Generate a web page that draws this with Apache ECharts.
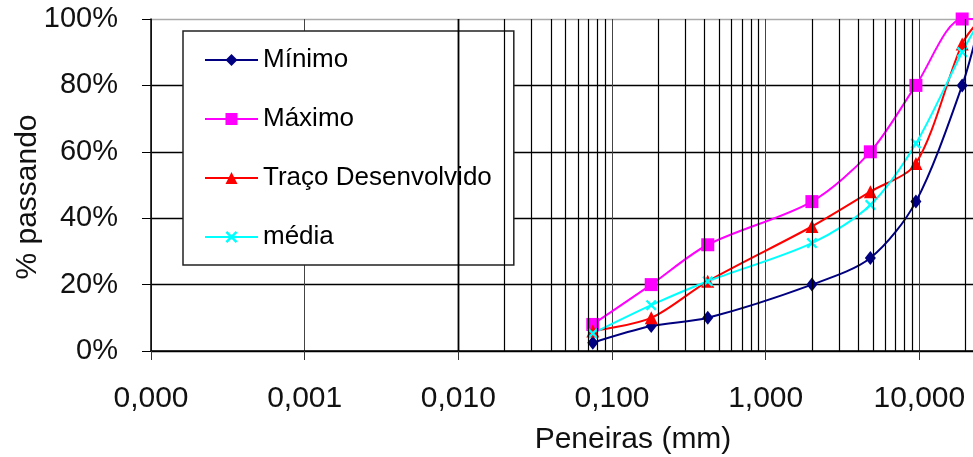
<!DOCTYPE html>
<html>
<head>
    <meta charset="utf-8">
    <script src="https://cdn.jsdelivr.net/npm/echarts@6/dist/echarts.min.js"></script>
</head>
<body style="margin:0;background:#fff;overflow:hidden">
    <!-- o grafico original esta cortado a direita: o div passa da janela -->
    <div id="main" style="width:1073px;height:457px;"></div>
    <script type="text/javascript">

        // peneiras (mm) e % passando de cada curva
        var peneiras = [0.075, 0.18, 0.42, 2.0, 4.8, 9.5, 19, 25];
        var minimo = [2.5, 7.5, 10, 20, 28, 45, 80, 100];
        var maximo = [8, 20, 32, 45, 60, 80, 100, 100];
        var traco = [6, 10, 21, 37.5, 48, 56.5, 92.5, 100];
        var media = [5.3, 13.8, 21, 32.5, 44, 62.5, 90, 100];
        var nomes = ['Mínimo', 'Máximo', 'Traço Desenvolvido', 'média'];

        function pares(vals) {
            return peneiras.map(function (p, i) { return [p, vals[i]]; });
        }

        // linhas de grade secundarias (2..9 em cada decada)
        var grade = [];
        for (var d = -4; d <= 1; d++) {
            for (var k = 2; k <= 9; k++) {
                grade.push({ xAxis: k * Math.pow(10, d) });
            }
        }

        var fonte = "'Liberation Sans', Arial, sans-serif";
        var cruz = 'path://M0,1.5L1.5,0L5,3.5L8.5,0L10,1.5L6.5,5L10,8.5L8.5,10L5,6.5L1.5,10L0,8.5L3.5,5Z';

        function curva(nome, vals, cor, simbolo, tam) {
            return {
                name: nome,
                type: 'line',
                data: pares(vals),
                smooth: 0.3,
                symbol: simbolo,
                symbolSize: tam,
                showSymbol: true,
                z: 3,
                lineStyle: { color: cor, width: 2 },
                itemStyle: { color: cor },
                emphasis: { disabled: true }
            };
        }

        var myChart = echarts.init(document.getElementById('main'));
        var option = {
            animation: false,
            textStyle: { fontFamily: fonte },
            grid: { left: 151, top: 19, bottom: 106, right: 0, outerBoundsMode: 'none', containLabel: false },
            legend: {
                data: nomes,
                orient: 'vertical',
                left: 183,
                top: 31,
                padding: [14, 22, 13, 21],
                itemWidth: 53,
                itemHeight: 15,
                itemGap: 29,
                backgroundColor: '#fff',
                borderColor: '#222',
                borderWidth: 1.5,
                borderRadius: 0,
                textStyle: { fontSize: 26, color: '#000', lineHeight: 30, fontFamily: fonte },
                selectedMode: false
            },
            xAxis: {
                type: 'log',
                logBase: 10,
                min: 0.0001,
                max: 100,
                splitNumber: 6,
                name: 'Peneiras (mm)',
                nameLocation: 'middle',
                nameGap: 74,
                nameTextStyle: { fontSize: 30, color: '#111', fontFamily: fonte, padding: [0, 0, 0, 42] },
                axisLine: { lineStyle: { color: '#000', width: 1.5 } },
                axisTick: { length: 9, lineStyle: { color: '#333' } },
                axisLabel: {
                    fontSize: 30, color: '#111', margin: 33,
                    formatter: function (v) { return v.toFixed(3).replace('.', ','); }
                },
                splitLine: { show: true, lineStyle: { color: '#444', width: 1 } }
            },
            yAxis: {
                type: 'value',
                min: 0,
                max: 100,
                interval: 20,
                name: '% passando',
                nameLocation: 'middle',
                nameGap: 108,
                nameMoveOverlap: false,
                nameRotate: 90,
                nameTextStyle: { fontSize: 30, color: '#111', fontFamily: fonte, padding: [0, 24, 0, 0] },
                axisLine: { show: true, lineStyle: { color: '#000', width: 1.5 } },
                axisTick: { show: true, length: 9, lineStyle: { color: '#000' } },
                axisLabel: { fontSize: 29, color: '#111', margin: 33, formatter: '{value}%' },
                splitLine: { show: true, lineStyle: { color: ['#000', '#000', '#000', '#000', '#000', '#aaa'], width: 1.4 } }
            },
            series: [
                {
                    name: 'grade',
                    type: 'line',
                    data: [],
                    z: 1,
                    markLine: {
                        silent: true,
                        symbol: ['none', 'none'],
                        label: { show: false },
                        lineStyle: { color: '#000', width: 1.2, type: 'solid' },
                        animation: false,
                        data: grade
                    }
                },
                curva('Mínimo', minimo, '#000080', 'diamond', [11, 14]),
                curva('Máximo', maximo, '#ff00ff', 'rect', 13),
                curva('Traço Desenvolvido', traco, '#ff0000', 'triangle', 13),
                curva('média', media, '#00ffff', cruz, 11)
            ]
        };
        myChart.setOption(option);
    </script>
</body>
</html>
